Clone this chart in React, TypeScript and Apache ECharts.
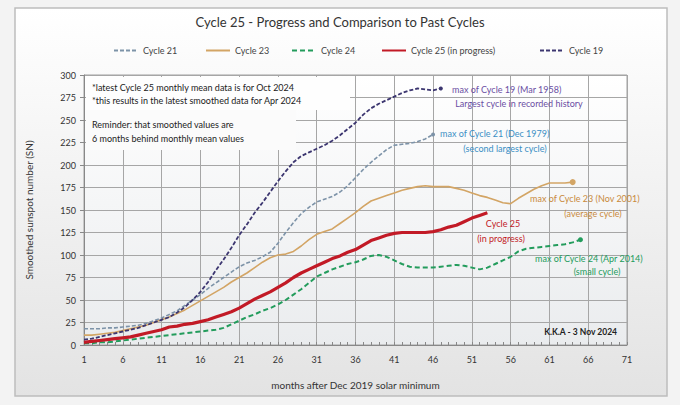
import React, { useEffect, useRef } from "react";
import * as echarts from "echarts";

const months = Array.from({ length: 71 }, (_, i) => String(i + 1));

const cycle19 = [6, 7, 9, 11, 13, 15, 17, 19, 22, 25, 28, 31, 36, 42, 50, 59, 70, 83, 95, 108, 122, 134, 147, 158, 170, 182, 193, 203, 210, 214, 218, 222, 227, 233, 240, 247, 256, 263, 268, 272, 276, 280, 283, 285, 284, 283, 285];
const cycle21 = [18, 18, 18, 19, 19, 20, 21, 22, 24, 27, 30, 34, 38, 44, 50, 56, 63, 69, 75, 81, 87, 91, 94, 98, 103, 113, 125, 136, 146, 153, 159, 162, 165, 170, 177, 186, 195, 203, 210, 217, 222, 223, 224, 226, 229, 234];
const cycle23 = [11, 11, 12, 13, 14, 16, 18, 20, 22, 25, 28, 31, 35, 39, 44, 49, 54, 59, 64, 70, 75, 80, 86, 92, 97, 100, 101, 104, 110, 117, 123, 126, 129, 135, 141, 147, 154, 160, 163, 166, 169, 172, 174, 176, 177, 176, 176, 176, 174, 172, 169, 166, 164, 161, 158, 157, 163, 168, 173, 177, 180, 180, 180, 181];
const cycle24 = [2, 2, 3, 3, 4, 5, 6, 7, 8, 9, 10, 11, 12, 13, 14, 15, 16, 17, 19, 23, 27, 31, 34, 38, 41, 45, 50, 56, 62, 69, 76, 80, 84, 87, 90, 92, 95, 99, 100, 98, 94, 90, 87, 86, 86, 86, 87, 88, 89, 88, 86, 84, 86, 90, 94, 98, 104, 107, 108, 109, 110, 111, 112, 114, 117];
const cycle25 = [3, 4, 5, 6, 7, 8, 9, 11, 13, 15, 17, 20, 21, 23, 24, 26, 28, 31, 34, 37, 41, 46, 51, 55, 59, 64, 69, 75, 80, 84, 88, 92, 96, 99, 103, 106, 111, 116, 119, 122, 124, 125, 125, 125, 125, 126, 128, 131, 133, 137, 141, 144, 147];

const titleText = "Cycle 25 - Progress and Comparison to Past Cycles";
const xAxisTitle = "months after Dec 2019 solar minimum";
const yAxisTitle = "Smoothed sunspot number (SN)";
const noteLines = [
  "*latest Cycle 25 monthly mean data is for Oct 2024",
  "*this results in the latest smoothed data for Apr 2024",
  "Reminder: that smoothed values are",
  "6 months behind monthly mean values",
];
const creditText = "K.K.A - 3 Nov 2024";

const FONT = "Lato, 'Open Sans', sans-serif";

function endSize(arr: number[], size: number) {
  return (_v: any, p: any) => (p.dataIndex === arr.length - 1 ? size : 0);
}

export default function App() {
  const ref = useRef<HTMLDivElement>(null);
  useEffect(() => {
    document.body.style.margin = "0";
    if (!ref.current) return;
    const chart = echarts.init(ref.current, undefined, { renderer: "svg" });

    const txt = (text: string, x: number, y: number, fill: string, align = "left", extra: any = {}) => ({
      type: "text",
      z: 5,
      style: {
        text,
        x,
        y,
        fill,
        fontSize: 9,
        fontFamily: FONT,
        textAlign: align,
        textVerticalAlign: "middle",
        ...extra,
      },
    });

    const option: any = {
      animation: false,
      backgroundColor: "#f3f3f3",
      textStyle: { fontFamily: FONT },
      title: {
        text: titleText,
        left: "center",
        top: 10,
        textStyle: { fontSize: 13, fontWeight: "normal", color: "#333", fontFamily: FONT },
      },
      legend: [
        { name: "Cycle 21", left: 108 },
        { name: "Cycle 23", left: 200 },
        { name: "Cycle 24", left: 286 },
        { name: "Cycle 25 (in progress)", left: 376 },
        { name: "Cycle 19", left: 534 },
      ].map((l) => ({
        data: [l.name],
        left: l.left,
        top: 41,
        itemWidth: 24,
        itemHeight: 10,
        itemGap: 5,
        itemStyle: { opacity: 0 },
        textStyle: { fontSize: 9, color: "#444", fontFamily: FONT },
      })),
      grid: {
        left: 84,
        top: 75,
        width: 543,
        height: 270,
        show: true,
        borderColor: "#a0a0a0",
        borderWidth: 1,
        backgroundColor: new echarts.graphic.LinearGradient(0, 0, 0, 1, [
          { offset: 0, color: "#ffffff" },
          { offset: 1, color: "#eaecee" },
        ]),
      },
      xAxis: {
        type: "category",
        data: months,
        boundaryGap: false,
        name: xAxisTitle,
        nameLocation: "middle",
        nameGap: 35,
        nameTextStyle: { fontSize: 10, color: "#333", fontFamily: FONT },
        axisLine: { lineStyle: { color: "#888" } },
        axisTick: { show: true, interval: 0, inside: true, length: 3, lineStyle: { color: "#888" } },
        axisLabel: { interval: 4, fontSize: 9, color: "#333", margin: 10 },
        splitLine: { show: true, interval: 4, lineStyle: { color: "#a6a6a6", width: 1 } },
      },
      yAxis: {
        type: "value",
        min: 0,
        max: 300,
        interval: 25,
        name: yAxisTitle,
        nameLocation: "middle",
        nameGap: 50,
        nameTextStyle: { fontSize: 10, color: "#333", fontFamily: FONT },
        axisLine: { show: true, lineStyle: { color: "#888" } },
        axisTick: { show: true, length: 4, lineStyle: { color: "#888" } },
        axisLabel: { fontSize: 9, color: "#333", margin: 8 },
        splitLine: { show: true, lineStyle: { color: "#a6a6a6", width: 1 } },
      },
      series: [
        {
          name: "Cycle 21",
          type: "line",
          data: cycle21,
          symbol: "circle",
          symbolSize: endSize(cycle21, 4),
          z: 3,
          color: "#7d93a8",
          lineStyle: { color: "#7d93a8", width: 1.6, type: [4, 2] },
        },
        {
          name: "Cycle 23",
          type: "line",
          data: cycle23,
          symbol: "circle",
          symbolSize: endSize(cycle23, 6),
          z: 3,
          color: "#d3a565",
          lineStyle: { color: "#d3a565", width: 1.6 },
        },
        {
          name: "Cycle 24",
          type: "line",
          data: cycle24,
          symbol: "circle",
          symbolSize: endSize(cycle24, 5),
          z: 4,
          color: "#239c5c",
          lineStyle: { color: "#239c5c", width: 2, type: [5, 3] },
        },
        {
          name: "Cycle 25 (in progress)",
          type: "line",
          data: cycle25,
          symbol: "none",
          z: 6,
          color: "#c21a26",
          lineStyle: { color: "#c21a26", width: 3.2 },
        },
        {
          name: "Cycle 19",
          type: "line",
          data: cycle19,
          symbol: "circle",
          symbolSize: endSize(cycle19, 4),
          z: 5,
          color: "#3c3670",
          lineStyle: { color: "#3c3670", width: 1.8, type: [4, 2] },
        },
      ],
      graphic: [
        {
          type: "rect",
          z: -100,
          silent: true,
          shape: { x: 15, y: 8, width: 652, height: 388 },
          style: {
            fill: new echarts.graphic.LinearGradient(0, 0, 0, 1, [
              { offset: 0, color: "#ffffff" },
              { offset: 1, color: "#e3e3e3" },
            ]),
            stroke: "#bdbdbd",
            lineWidth: 1.5,
          },
        },
        { type: "rect", z: 1, silent: true, shape: { x: 86, y: 77, width: 264, height: 33 }, style: { fill: "#fefefe" } },
        { type: "rect", z: 1, silent: true, shape: { x: 86, y: 110, width: 210, height: 40 }, style: { fill: "#fbfbfb" } },
        txt(noteLines[0], 92, 87, "#222"),
        txt(noteLines[1], 92, 100, "#222"),
        txt(noteLines[2], 92, 124, "#222"),
        txt(noteLines[3], 92, 138, "#222"),
        txt("max of Cycle 19 (Mar 1958)", 452, 89, "#6b4ea3"),
        txt("Largest cycle in recorded history", 519, 103, "#6b4ea3", "center"),
        txt("max of Cycle 21 (Dec 1979)", 440, 133, "#3a8fc4"),
        txt("(second largest cycle)", 505, 148, "#3a8fc4", "center"),
        txt("max of Cycle 23 (Nov 2001)", 530, 198, "#c98a3c"),
        txt("(average cycle)", 593, 213, "#c98a3c", "center"),
        txt("Cycle 25", 503, 223, "#c21a26", "center"),
        txt("(in progress)", 501, 238, "#c21a26", "center"),
        txt("max of Cycle 24 (Apr 2014)", 535, 258, "#239c5c"),
        txt("(small cycle)", 597, 271, "#239c5c", "center"),
        txt(creditText, 617, 332, "#222", "right", { fontWeight: "bold", fontSize: 8.5 }),
      ],
    };

    chart.setOption(option);
    return () => chart.dispose();
  }, []);

  return <div ref={ref} style={{ width: 680, height: 405 }} />;
}
